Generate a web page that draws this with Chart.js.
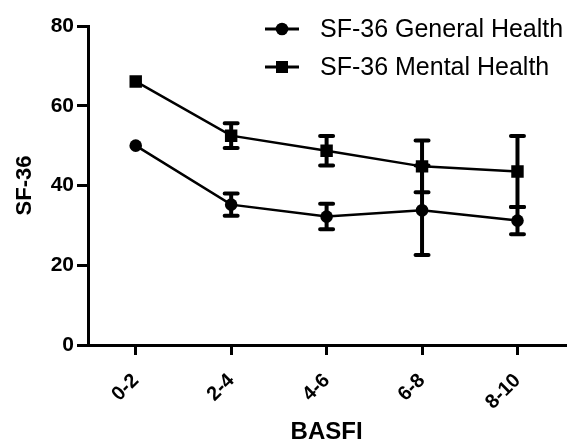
<!DOCTYPE html>
<html>
<head>
<meta charset="utf-8">
<script src="https://cdn.jsdelivr.net/npm/chart.js@4.4.1/dist/chart.umd.min.js"></script>
<style>
    html, body { margin: 0; padding: 0; background: #fff; }
    #wrap { width: 574px; height: 444px; }
</style>
</head>
<body>
<div id="wrap"><canvas id="sf36_chart" width="574" height="444"></canvas></div>
<script>
//
// DATA
//
const basfi_groups = ["0-2", "2-4", "4-6", "6-8", "8-10"];
const series_names = ["SF-36 General Health", "SF-36 Mental Health"];
const general_health = [50.0, 35.2, 32.2, 33.8, 31.2];
const general_health_err = [0, 2.8, 3.2, 11.2, 3.4];
const mental_health = [66.1, 52.5, 48.7, 44.8, 43.5];
const mental_health_err = [0, 3.1, 3.7, 6.5, 8.9];
const y_ticks = [0, 20, 40, 60, 80];

const FONT = "'Liberation Sans', Arial, sans-serif";

//
// ERROR BARS (drawn through the chart scales)
//
const error_bar_plugin = {
    id: "error_bars",
    afterDatasetsDraw(chart) {
        const ctx = chart.ctx;
        const x = chart.scales.x;
        const y = chart.scales.y;
        ctx.save();
        ctx.strokeStyle = "#000";
        chart.data.datasets.forEach(ds => {
            ds.data.forEach((v, i) => {
                const e = ds.errors[i];
                if (!e) return;
                const px = x.getPixelForValue(i);
                const top = y.getPixelForValue(v + e);
                const bot = y.getPixelForValue(v - e);
                ctx.lineWidth = 4;
                ctx.lineCap = "butt";
                ctx.beginPath();
                ctx.moveTo(px, top);
                ctx.lineTo(px, bot);
                ctx.stroke();
                ctx.lineCap = "round";
                ctx.beginPath();
                ctx.moveTo(px - 6.5, top);
                ctx.lineTo(px + 6.5, top);
                ctx.moveTo(px - 6.5, bot);
                ctx.lineTo(px + 6.5, bot);
                ctx.stroke();
            });
        });
        ctx.restore();
    }
};

//
// LEGEND (line + marker, top right)
//
const legend_plugin = {
    id: "line_legend",
    afterDraw(chart) {
        const ctx = chart.ctx;
        ctx.save();
        ctx.fillStyle = "#000";
        ctx.strokeStyle = "#000";
        ctx.font = "25px " + FONT;
        ctx.textBaseline = "middle";
        const rows = [29, 67];
        chart.data.datasets.forEach((ds, i) => {
            const yy = rows[i];
            ctx.lineWidth = 3;
            ctx.beginPath();
            ctx.moveTo(265, yy);
            ctx.lineTo(299, yy);
            ctx.stroke();
            if (ds.pointStyle === "rect") {
                ctx.fillRect(276, yy - 6, 12, 12);
            } else {
                ctx.beginPath();
                ctx.arc(282, yy, 6.3, 0, Math.PI * 2);
                ctx.fill();
            }
            ctx.fillText(ds.label, 320, yy + 1);
        });
        ctx.restore();
    }
};

new Chart(document.getElementById("sf36_chart"), {
    type: "line",
    data: {
        labels: basfi_groups,
        datasets: [
            {
                label: series_names[0],
                data: general_health,
                errors: general_health_err,
                borderColor: "#000",
                backgroundColor: "#000",
                borderWidth: 2.5,
                pointStyle: "circle",
                pointRadius: 6.3,
                pointBorderWidth: 0,
                tension: 0
            },
            {
                label: series_names[1],
                data: mental_health,
                errors: mental_health_err,
                borderColor: "#000",
                backgroundColor: "#000",
                borderWidth: 2.5,
                pointStyle: "rect",
                pointRadius: 8.8,
                pointBorderWidth: 0,
                tension: 0
            }
        ]
    },
    options: {
        responsive: false,
        animation: false,
        layout: { padding: { top: 26, right: 3, left: 0, bottom: 0 } },
        plugins: {
            legend: { display: false },
            tooltip: { enabled: false }
        },
        scales: {
            x: {
                type: "category",
                offset: true,
                grid: { drawOnChartArea: false, drawTicks: true, tickLength: 10, color: "#000", lineWidth: 3 },
                border: { display: true, color: "#000", width: 3 },
                ticks: {
                    color: "#000",
                    font: { family: FONT, size: 20, weight: "bold" },
                    minRotation: 45,
                    maxRotation: 45,
                    padding: 14
                },
                title: {
                    display: true,
                    text: "BASFI",
                    color: "#000",
                    font: { family: FONT, size: 24, weight: "bold" },
                    padding: { top: 0, bottom: -3 }
                },
                afterFit: (scale) => { scale.height = 99; }
            },
            y: {
                min: 0,
                max: 80,
                afterBuildTicks: (scale) => { scale.ticks = y_ticks.map(v => ({ value: v })); },
                grid: { drawOnChartArea: false, drawTicks: true, tickLength: 11, color: "#000", lineWidth: 3 },
                border: { display: true, color: "#000", width: 3 },
                ticks: {
                    color: "#000",
                    font: { family: FONT, size: 21, weight: "bold" },
                    padding: 3
                },
                title: {
                    display: true,
                    text: "SF-36",
                    color: "#000",
                    font: { family: FONT, size: 22, weight: "bold" },
                    padding: { top: 12, bottom: 0 }
                },
                afterFit: (scale) => { scale.width = 88; }
            }
        }
    },
    plugins: [error_bar_plugin, legend_plugin]
});
</script>
</body>
</html>
